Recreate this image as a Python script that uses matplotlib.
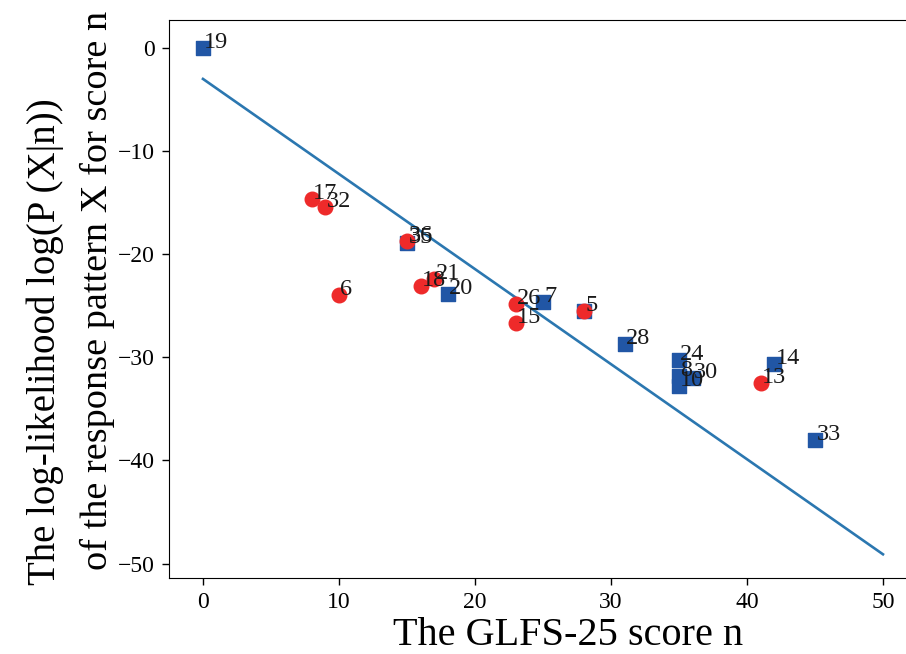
import matplotlib
matplotlib.use("Agg")
import matplotlib.pyplot as plt

plt.rcParams["font.family"] = ["Liberation Serif", "DejaVu Serif"]
plt.rcParams["mathtext.fontset"] = "stix"

# Group A (blue squares)
sq_labels = ["19", "35", "20", "7", "5", "28", "24", "8", "10", "30", "14", "33"]
sq_score = [0, 15, 18, 25, 28, 31, 35, 35, 35, 36, 42, 45]
sq_loglik = [0.0, -18.9, -23.9, -24.6, -25.5, -28.7, -30.3, -31.8, -32.8, -32.0, -30.6, -38.0]

# Group B (red circles)
ci_labels = ["17", "32", "36", "6", "18", "21", "26", "15", "5", "13"]
ci_score = [8, 9, 15, 10, 16, 17, 23, 23, 28, 41]
ci_loglik = [-14.6, -15.4, -18.7, -24.0, -23.1, -22.4, -24.8, -26.7, -25.5, -32.5]

# Fitted line
fit_x = [0, 50]
fit_intercept = -3.0
fit_slope = -0.922

W, H = 906, 654
fig = plt.figure(figsize=(W / 100, H / 100), dpi=100)
ax = fig.add_axes([0.1865, 0.1162, 0.8256, 0.853])

fit_y = [fit_intercept + fit_slope * v for v in fit_x]
ax.plot(fit_x, fit_y, color="#2b77b0", lw=1.9, zorder=2)

ax.scatter(sq_score, sq_loglik, marker="s", s=95, color="#2156a5", zorder=3)
ax.scatter(ci_score, ci_loglik, marker="o", s=110, color="#ee2a2a", zorder=4)

for lab, x, y in zip(sq_labels, sq_score, sq_loglik):
    ax.annotate(lab, (x, y), xytext=(x + 0.1, y), fontsize=17.5, color="#1a1a1a", zorder=5)
for lab, x, y in zip(ci_labels, ci_score, ci_loglik):
    if lab == "5":
        continue
    ax.annotate(lab, (x, y), xytext=(x + 0.1, y), fontsize=17.5, color="#1a1a1a", zorder=5)

ax.set_xlim(-2.5, 52.5)
ax.set_ylim(-51.4, 2.7)
ax.set_xticks([0, 10, 20, 30, 40, 50])
ax.set_yticks([0, -10, -20, -30, -40, -50])
ax.set_yticklabels(["0", "\u221210", "\u221220", "\u221230", "\u221240", "\u221250"])
ax.tick_params(labelsize=17, length=5, width=1, pad=5)

# Axis titles
fig.text(393 / W, 1 - 645 / H, "The GLFS-25 score n", fontsize=29,
         ha="left", va="baseline")
fig.text(45 / W, 1 - 342 / H, "The log-likelihood log(P (X|n))", fontsize=28,
         rotation=90, ha="center", va="center")
fig.text(97 / W, 1 - 290 / H, "of the response pattern X for score n", fontsize=27.5,
         rotation=90, ha="center", va="center")

fig.savefig("out.png", dpi=100)
